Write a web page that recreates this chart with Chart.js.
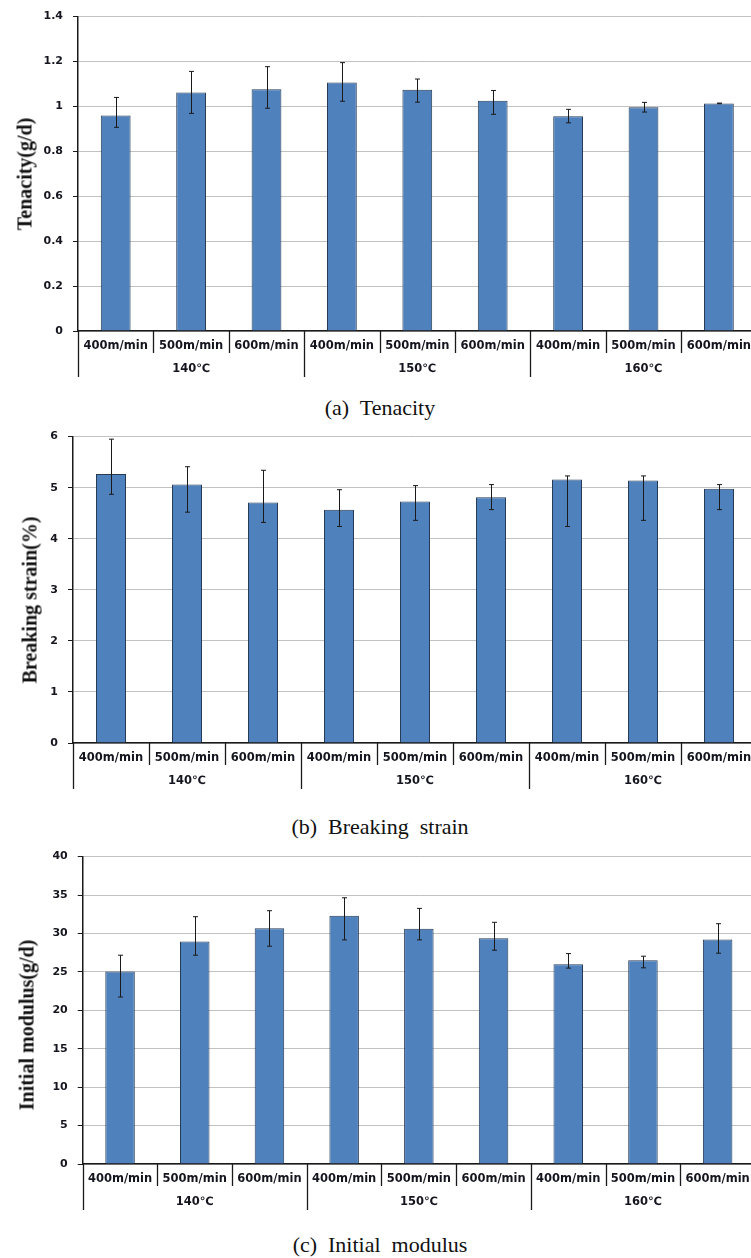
<!DOCTYPE html>
<html>
<head>
<meta charset="utf-8">
<script src="https://cdn.jsdelivr.net/npm/chart.js@4/dist/chart.umd.min.js"></script>
<style>
  html, body { margin: 0; padding: 0; background: #fff; }
  body { width: 751px; height: 1258px; overflow: hidden; position: relative; }
  canvas { position: absolute; left: 0; }
  .ytitle {
    position: absolute; white-space: nowrap; color: #111;
    font: bold 20px "Liberation Serif", "Times New Roman", serif;
    transform: translate(-50%, -50%) rotate(-90deg);
  }
  .caption {
    position: absolute; white-space: pre; color: #111;
    font: 22px "Liberation Serif", "Times New Roman", serif;
    transform: translate(-50%, -50%);
  }
</style>
</head>
<body>
<script>
// Spinning conditions
const speeds = ['400m/min', '500m/min', '600m/min'];
const temps = ['140℃', '150℃', '160℃'];

// (a) Tenacity, g/d: mean and error-bar ends
const tenacity     = [0.960, 1.062, 1.077, 1.106, 1.074, 1.025, 0.956, 0.996, 1.013];
const tenacityHigh = [1.040, 1.156, 1.177, 1.195, 1.122, 1.071, 0.987, 1.018, 1.015];
const tenacityLow  = [0.907, 0.969, 0.992, 1.023, 1.019, 0.965, 0.927, 0.975, 1.012];
const tenacityTicks = [0, 0.2, 0.4, 0.6, 0.8, 1, 1.2, 1.4];

// (b) Breaking strain, %
const strain     = [5.27, 5.06, 4.71, 4.57, 4.73, 4.81, 5.16, 5.14, 4.98];
const strainHigh = [5.95, 5.41, 5.34, 4.96, 5.04, 5.06, 5.23, 5.23, 5.06];
const strainLow  = [4.87, 4.52, 4.32, 4.24, 4.36, 4.57, 4.24, 4.36, 4.57];
const strainTicks = [0, 1, 2, 3, 4, 5, 6];

// (c) Initial modulus, g/d
const modulus     = [25.05, 28.94, 30.67, 32.31, 30.62, 29.37, 26.00, 26.52, 29.20];
const modulusHigh = [27.17, 32.18, 32.96, 34.64, 33.26, 31.45, 27.38, 27.04, 31.27];
const modulusLow  = [21.73, 27.17, 28.34, 29.16, 29.16, 27.82, 25.49, 25.53, 27.43];
const modulusTicks = [0, 5, 10, 15, 20, 25, 30, 35, 40];

// Two-row category labels: speed on every bar, temperature under the middle bar of each group
const mid = Math.floor(speeds.length / 2);
const categoryLabels = temps.flatMap(t => speeds.map((s, j) => [s, j === mid ? t : '']));

const panels = [
  { values: tenacity, high: tenacityHigh, low: tenacityLow, ticks: tenacityTicks,
    title: 'Tenacity(g/d)', caption: '(a)  Tenacity',
    top: 15, bottom: 331, left: 78, right: 756.6, titleX: 25, titleY: 174, capY: 408 },
  { values: strain, high: strainHigh, low: strainLow, ticks: strainTicks,
    title: 'Breaking strain(%)', caption: '(b)  Breaking  strain',
    top: 435, bottom: 743.3, left: 73, right: 757, titleX: 30, titleY: 600, capY: 827 },
  { values: modulus, high: modulusHigh, low: modulusLow, ticks: modulusTicks,
    title: 'Initial modulus(g/d)', caption: '(c)  Initial  modulus',
    top: 855.3, bottom: 1164, left: 82.7, right: 755, titleX: 27, titleY: 1025, capY: 1245 }
];

Chart.defaults.font.family = '"DejaVu Sans", sans-serif';
Chart.defaults.color = '#15151f';

const PAD_TOP = 15, X_AXIS_H = 52, CANVAS_W = 790;
const ink = '#1a1a1a';

// Error bars drawn on the chart's own scales
const errorBars = {
  id: 'errorBars',
  afterDatasetsDraw(chart, args, opts) {
    const { ctx } = chart;
    const xs = chart.scales.x, ys = chart.scales.y;
    ctx.save();
    ctx.strokeStyle = ink;
    ctx.lineWidth = 1;
    opts.high.forEach((hi, i) => {
      const x = Math.round(xs.getPixelForValue(i)) + 0.5;
      const yh = ys.getPixelForValue(hi);
      const yl = ys.getPixelForValue(opts.low[i]);
      ctx.beginPath();
      ctx.moveTo(x, yh); ctx.lineTo(x, yl);
      ctx.moveTo(x - 2.5, yh); ctx.lineTo(x + 2.5, yh);
      ctx.moveTo(x - 2.5, yl); ctx.lineTo(x + 2.5, yl);
      ctx.stroke();
    });
    ctx.restore();
  }
};

// Separators between category cells; longer ones between temperature groups
const categoryDividers = {
  id: 'categoryDividers',
  afterDraw(chart) {
    const { ctx, chartArea } = chart;
    const xs = chart.scales.x;
    const n = chart.data.labels.length;
    const half = (xs.getPixelForValue(1) - xs.getPixelForValue(0)) / 2;
    ctx.save();
    ctx.strokeStyle = ink;
    ctx.lineWidth = 1.3;
    for (let i = 0; i <= n; i++) {
      const x = i < n ? xs.getPixelForValue(i) - half : xs.getPixelForValue(n - 1) + half;
      const len = (i % speeds.length === 0) ? 46 : 22;
      ctx.beginPath();
      ctx.moveTo(Math.round(x) + 0.5, chartArea.bottom);
      ctx.lineTo(Math.round(x) + 0.5, chartArea.bottom + len);
      ctx.stroke();
    }
    ctx.restore();
  }
};

panels.forEach(p => {
  const canvas = document.createElement('canvas');
  const h = Math.round(p.bottom - p.top + PAD_TOP + X_AXIS_H);
  canvas.width = CANVAS_W;
  canvas.height = h;
  canvas.style.width = CANVAS_W + 'px';
  canvas.style.height = h + 'px';
  canvas.style.top = (p.top - PAD_TOP) + 'px';
  document.body.appendChild(canvas);

  new Chart(canvas, {
    type: 'bar',
    data: {
      labels: categoryLabels,
      datasets: [{
        data: p.values,
        backgroundColor: '#4f81bd',
        borderColor: '#263a55',
        borderWidth: 1,
        barPercentage: 0.395,
        categoryPercentage: 1
      }]
    },
    options: {
      responsive: false,
      animation: false,
      devicePixelRatio: 1,
      layout: { padding: { top: PAD_TOP, left: 0, right: CANVAS_W - p.right, bottom: 0 } },
      plugins: {
        legend: { display: false },
        tooltip: { enabled: false },
        errorBars: { high: p.high, low: p.low }
      },
      scales: {
        x: {
          type: 'category',
          offset: true,
          grid: { display: false, drawTicks: false },
          border: { display: true, color: ink, width: 1.5 },
          ticks: {
            autoSkip: false, maxRotation: 0, minRotation: 0, padding: 4,
            color: '#15151f',
            font: { size: 11.5, weight: 'bold', lineHeight: 2 }
          },
          afterFit(scale) { scale.height = X_AXIS_H; }
        },
        y: {
          min: p.ticks[0],
          max: p.ticks[p.ticks.length - 1],
          afterBuildTicks(scale) { scale.ticks = p.ticks.map(v => ({ value: v })); },
          grid: { color: '#c2c2c2', lineWidth: 1, drawTicks: true, tickLength: 5, tickColor: ink },
          border: { display: true, color: ink, width: 1.5 },
          ticks: {
            padding: 10, color: '#15151f',
            font: { size: 11, weight: 'bold' },
            callback: v => String(v)
          },
          afterFit(scale) { scale.width = p.left; }
        }
      }
    },
    plugins: [errorBars, categoryDividers]
  });

  const t = document.createElement('div');
  t.className = 'ytitle';
  t.textContent = p.title;
  t.style.left = p.titleX + 'px';
  t.style.top = p.titleY + 'px';
  document.body.appendChild(t);

  const c = document.createElement('div');
  c.className = 'caption';
  c.textContent = p.caption;
  c.style.left = '380px';
  c.style.top = p.capY + 'px';
  document.body.appendChild(c);
});
</script>
</body>
</html>
